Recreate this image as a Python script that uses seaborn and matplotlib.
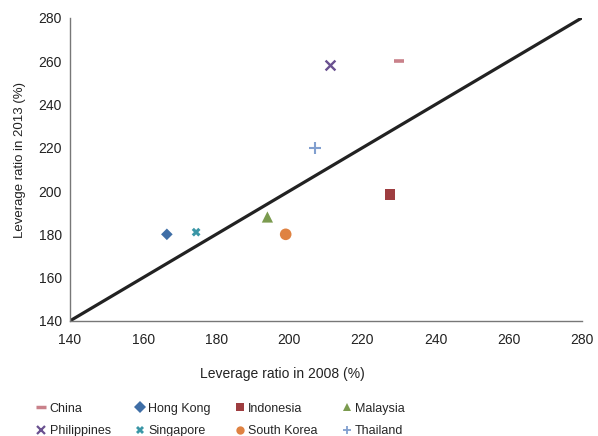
import matplotlib
matplotlib.use("Agg")
import matplotlib.pyplot as plt
import seaborn as sb
import pandas as pd
from matplotlib.lines import Line2D

# Leverage ratios (%)
countries = ["China", "Hong Kong", "Indonesia", "Malaysia",
             "Philippines", "Singapore", "South Korea", "Thailand"]
lev_2008 = [230, 166.5, 227.5, 194, 211, 174.5, 199, 207]
lev_2013 = [260, 180, 198.5, 188, 258, 181, 180, 220]

colors = {"China": "#c9818a", "Hong Kong": "#3f6ea6", "Indonesia": "#9e3d40",
          "Malaysia": "#7b9b4f", "Philippines": "#6a5190", "Singapore": "#3a96a6",
          "South Korea": "#df8242", "Thailand": "#819fcf"}
markers = {"China": "_", "Hong Kong": "D", "Indonesia": "s", "Malaysia": "^",
           "Philippines": "x", "Singapore": "X", "South Korea": "o", "Thailand": "+"}
sizes = {"China": 60, "Hong Kong": 35, "Indonesia": 60, "Malaysia": 65,
         "Philippines": 50, "Singapore": 40, "South Korea": 70, "Thailand": 70}

df = pd.DataFrame({"country": countries, "x": lev_2008, "y": lev_2013})

sb.set_style("white")
plt.rcParams["font.family"] = ["Liberation Sans", "DejaVu Sans"]

fig = plt.figure(figsize=(5.98, 4.36), dpi=100)
ax = fig.add_axes([0.117, 0.264, 0.856, 0.695])

# 45 degree line
ax.plot([140, 280], [140, 280], color="#222222", lw=2.3, zorder=1)

for c in countries:
    sub = df[df["country"] == c]
    m = markers[c]
    lw = {"_": 2.6, "x": 1.7, "+": 1.5}.get(m, 0)
    sb.scatterplot(data=sub, x="x", y="y", ax=ax, color=colors[c], marker=m,
                   s=sizes[c], linewidth=lw, edgecolor=colors[c] if lw else "none",
                   legend=False, zorder=3)

ax.set_xlim(140, 280)
ax.set_ylim(140, 280)
ax.set_xticks(range(140, 281, 20))
ax.set_yticks(range(140, 281, 20))
ax.tick_params(direction="in", length=6, width=1, color="#666666",
               labelsize=10, labelcolor="#222222", pad=6)
ax.tick_params(axis="x", pad=9)
for side in ["top", "right"]:
    ax.spines[side].set_visible(False)
for side in ["left", "bottom"]:
    ax.spines[side].set_color("#777777")
    ax.spines[side].set_linewidth(1)

ax.set_xlabel("Leverage ratio in 2008 (%)", fontsize=10, color="#222222")
ax.set_ylabel("Leverage ratio in 2013 (%)", fontsize=9.5, color="#222222")
ax.xaxis.set_label_coords(0.414, -0.152)
ax.yaxis.set_label_coords(-0.086, 0.53)

# legend, row-major order over 4 columns
order = ["China", "Philippines", "Hong Kong", "Singapore",
         "Indonesia", "South Korea", "Malaysia", "Thailand"]
handles = []
for c in order:
    m = markers[c]
    handles.append(Line2D([], [], linestyle="none", marker=m, color=colors[c],
                          markersize=7 if m == "_" else 6,
                          markeredgewidth={"_": 2.5, "x": 1.6, "+": 1.3}.get(m, 0)))
fig.legend(handles, order, ncol=4, loc="upper left", bbox_to_anchor=(0.062, 0.076),
           frameon=False, fontsize=9, handlelength=0.7, handletextpad=0.3,
           columnspacing=2.0, labelspacing=0.85, borderpad=0, borderaxespad=0)

fig.savefig("out.png", dpi=100)
